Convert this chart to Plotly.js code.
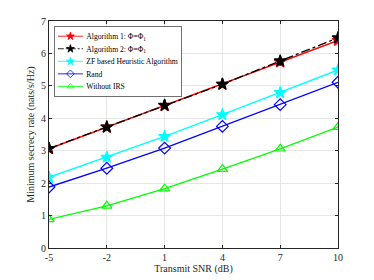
<!DOCTYPE html>
<html><head><meta charset="utf-8">
<script src="https://cdn.plot.ly/plotly-3.0.1.min.js"></script>
<style>body{margin:0;background:#fff}#c{width:374px;height:280px}</style>
</head><body><div id="c"></div>
<script>
const snr = [-5, -2, 1, 4, 7, 10];
const alg1 = [3.06, 3.73, 4.39, 5.05, 5.74, 6.40];
const alg2 = [3.07, 3.73, 4.40, 5.05, 5.77, 6.48];
const zf = [2.18, 2.80, 3.44, 4.11, 4.79, 5.49];
const rand = [1.88, 2.46, 3.08, 3.75, 4.42, 5.11];
const noIRS = [0.88, 1.30, 1.83, 2.43, 3.06, 3.73];
const names = ['Algorithm 1: \u03A6=\u03A6<sub>1</sub>', 'Algorithm 2: \u03A6=\u03A6<sub>1</sub>',
  'ZF based Heuristic Algorithm', 'Rand', 'Without IRS'];
const yTicks = [0, 1, 2, 3, 4, 5, 6, 7];

function tr(y, name, color, sym, dash, size) {
  return {x: snr, y: y, name: name, type: 'scatter', mode: 'lines+markers',
    line: {color: color, width: 1.3, dash: dash},
    marker: {symbol: sym, size: size, color: color, line: {color: color, width: 1.2}}};
}
const data = [
  tr(alg1, names[0], '#ff0000', 'star', 'solid', 9),
  tr(alg2, names[1], '#000000', 'star', 'dashdot', 9),
  tr(zf, names[2], '#00ffff', 'star', 'solid', 9),
  tr(rand, names[3], '#0000ff', 'diamond-open', 'solid', 9),
  tr(noIRS, names[4], '#00ff00', 'triangle-up-open', 'solid', 9)
];
const axFont = {family: 'Liberation Serif, Times New Roman, serif', size: 10, color: '#262626'};
const layout = {
  width: 374, height: 280,
  margin: {l: 49, r: 36, t: 21, b: 32},
  paper_bgcolor: '#fff', plot_bgcolor: '#fff',
  font: axFont,
  showlegend: true,
  legend: {x: 0.017, y: 0.978, xanchor: 'left', yanchor: 'top',
    bgcolor: '#fff', bordercolor: '#262626', borderwidth: 1,
    font: {family: 'Liberation Serif, Times New Roman, serif', size: 11.6, color: '#000'},
    tracegroupgap: 0, itemwidth: 38},
  xaxis: {range: [-5, 10], tickvals: snr, ticktext: snr.map(String),
    showgrid: true, gridcolor: '#e6e6e6', gridwidth: 1,
    zeroline: false, showline: true, linecolor: '#262626', linewidth: 1, mirror: 'ticks',
    ticks: 'inside', ticklen: 3, tickcolor: '#262626',
    tickfont: axFont,
    title: {text: 'Transmit SNR (dB)', font: axFont, standoff: 2}},
  yaxis: {range: [0, 7], tickvals: yTicks,
    showgrid: true, gridcolor: '#e6e6e6', gridwidth: 1,
    zeroline: false, showline: true, linecolor: '#262626', linewidth: 1, mirror: 'ticks',
    ticks: 'inside', ticklen: 3, tickcolor: '#262626',
    tickfont: axFont,
    title: {text: 'Minimum secrecy rate (nats/s/Hz)', font: axFont, standoff: 4}}
};
Plotly.newPlot('c', data, layout, {staticPlot: true, displayModeBar: false}).then(function (gd) {
  const lg = gd.querySelector('g.legend');
  if (lg) {
    const t = lg.getAttribute('transform') || '';
    lg.setAttribute('transform', t + ' scale(0.66)');
  }
});
</script></body></html>
